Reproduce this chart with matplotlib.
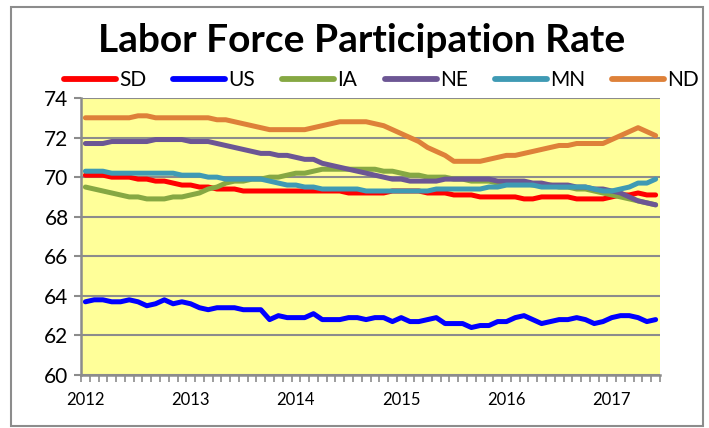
import matplotlib.pyplot as plt
import numpy as np
from matplotlib.patches import Rectangle

plt.rcParams['font.family'] = ['Lato', 'DejaVu Sans']

# monthly values, Jan 2012 - Jun 2017
years = ['2012', '2013', '2014', '2015', '2016', '2017']

SD = [70.1, 70.1, 70.1, 70.0, 70.0, 70.0, 69.9, 69.9, 69.8, 69.8, 69.7, 69.6,
      69.6, 69.5, 69.5, 69.4, 69.4, 69.4, 69.3, 69.3, 69.3, 69.3, 69.3, 69.3,
      69.3, 69.3, 69.3, 69.3, 69.3, 69.3, 69.2, 69.2, 69.2, 69.2, 69.2, 69.3,
      69.3, 69.3, 69.3, 69.2, 69.2, 69.2, 69.1, 69.1, 69.1, 69.0, 69.0, 69.0,
      69.0, 69.0, 68.9, 68.9, 69.0, 69.0, 69.0, 69.0, 68.9, 68.9, 68.9, 68.9,
      69.0, 69.1, 69.1, 69.2, 69.1, 69.1]
US = [63.7, 63.8, 63.8, 63.7, 63.7, 63.8, 63.7, 63.5, 63.6, 63.8, 63.6, 63.7,
      63.6, 63.4, 63.3, 63.4, 63.4, 63.4, 63.3, 63.3, 63.3, 62.8, 63.0, 62.9,
      62.9, 62.9, 63.1, 62.8, 62.8, 62.8, 62.9, 62.9, 62.8, 62.9, 62.9, 62.7,
      62.9, 62.7, 62.7, 62.8, 62.9, 62.6, 62.6, 62.6, 62.4, 62.5, 62.5, 62.7,
      62.7, 62.9, 63.0, 62.8, 62.6, 62.7, 62.8, 62.8, 62.9, 62.8, 62.6, 62.7,
      62.9, 63.0, 63.0, 62.9, 62.7, 62.8]
IA = [69.5, 69.4, 69.3, 69.2, 69.1, 69.0, 69.0, 68.9, 68.9, 68.9, 69.0, 69.0,
      69.1, 69.2, 69.4, 69.5, 69.7, 69.8, 69.8, 69.9, 69.9, 70.0, 70.0, 70.1,
      70.2, 70.2, 70.3, 70.4, 70.4, 70.4, 70.4, 70.4, 70.4, 70.4, 70.3, 70.3,
      70.2, 70.1, 70.1, 70.0, 70.0, 70.0, 69.9, 69.9, 69.8, 69.8, 69.8, 69.7,
      69.7, 69.7, 69.7, 69.6, 69.6, 69.6, 69.5, 69.5, 69.4, 69.4, 69.3, 69.2,
      69.1, 69.0, 68.9, 68.8, 68.7, 68.6]
NE = [71.7, 71.7, 71.7, 71.8, 71.8, 71.8, 71.8, 71.8, 71.9, 71.9, 71.9, 71.9,
      71.8, 71.8, 71.8, 71.7, 71.6, 71.5, 71.4, 71.3, 71.2, 71.2, 71.1, 71.1,
      71.0, 70.9, 70.9, 70.7, 70.6, 70.5, 70.4, 70.3, 70.2, 70.1, 70.0, 69.9,
      69.9, 69.8, 69.8, 69.8, 69.8, 69.9, 69.9, 69.9, 69.9, 69.9, 69.9, 69.8,
      69.8, 69.8, 69.8, 69.7, 69.7, 69.6, 69.6, 69.6, 69.5, 69.5, 69.4, 69.4,
      69.3, 69.2, 69.0, 68.8, 68.7, 68.6]
MN = [70.3, 70.3, 70.3, 70.2, 70.2, 70.2, 70.2, 70.2, 70.2, 70.2, 70.2, 70.1,
      70.1, 70.1, 70.0, 70.0, 69.9, 69.9, 69.9, 69.9, 69.9, 69.8, 69.7, 69.6,
      69.6, 69.5, 69.5, 69.4, 69.4, 69.4, 69.4, 69.4, 69.3, 69.3, 69.3, 69.3,
      69.3, 69.3, 69.3, 69.3, 69.4, 69.4, 69.4, 69.4, 69.4, 69.4, 69.5, 69.5,
      69.6, 69.6, 69.6, 69.6, 69.5, 69.5, 69.5, 69.5, 69.5, 69.5, 69.4, 69.3,
      69.3, 69.4, 69.5, 69.7, 69.7, 69.9]
ND = [73.0, 73.0, 73.0, 73.0, 73.0, 73.0, 73.1, 73.1, 73.0, 73.0, 73.0, 73.0,
      73.0, 73.0, 73.0, 72.9, 72.9, 72.8, 72.7, 72.6, 72.5, 72.4, 72.4, 72.4,
      72.4, 72.4, 72.5, 72.6, 72.7, 72.8, 72.8, 72.8, 72.8, 72.7, 72.6, 72.4,
      72.2, 72.0, 71.8, 71.5, 71.3, 71.1, 70.8, 70.8, 70.8, 70.8, 70.9, 71.0,
      71.1, 71.1, 71.2, 71.3, 71.4, 71.5, 71.6, 71.6, 71.7, 71.7, 71.7, 71.7,
      71.9, 72.1, 72.3, 72.5, 72.3, 72.1]

series = [('SD', SD, '#FF0000'), ('US', US, '#0000FF'), ('IA', IA, '#86A843'),
          ('NE', NE, '#6C5694'), ('MN', MN, '#3F9AB4'), ('ND', ND, '#DE8139')]

fig = plt.figure(figsize=(7.09, 4.28), dpi=100)
ax = fig.add_axes([81/709, 1-375/428, (660-81)/709, (375-98)/428])
ax.set_facecolor('#FFFF99')

x = np.arange(len(SD))
for name, vals, col in series:
    ax.plot(x, vals, color=col, lw=3.6, label=name, solid_capstyle='round')

ax.set_ylim(60, 74)
ax.set_yticks(np.arange(60, 75, 2))
ax.set_xlim(-0.5, len(SD) - 0.5)
ax.set_xticks(np.arange(0, len(SD), 12))
ax.set_xticklabels(years)
ax.set_xticks(np.arange(-0.5, len(SD), 1), minor=True)
ax.grid(axis='y', color='#8c8c8c', lw=1.5)
ax.set_axisbelow(True)
for s in ['top', 'right']:
    ax.spines[s].set_visible(False)
for s in ['left', 'bottom']:
    ax.spines[s].set_color('#8c8c8c')
    ax.spines[s].set_linewidth(1.8)
ax.tick_params(axis='y', labelsize=15, color='#8c8c8c', length=5, width=1.5, pad=4)
ax.tick_params(axis='x', which='major', labelsize=12, length=0, pad=12)
ax.tick_params(axis='x', which='minor', color='#8c8c8c', length=5, width=1.2)

fig.text(0.51, 1-40/428, 'Labor Force Participation Rate', ha='center', va='center',
         fontsize=28, fontweight='bold')
leg = fig.legend(loc='center', bbox_to_anchor=(0.538, 1-80/428), ncol=6, frameon=False,
                 fontsize=15, handlelength=2.5, handletextpad=0.15, columnspacing=1.3)
for h in leg.get_lines():
    h.set_linewidth(4.2)

fig.patches.append(Rectangle((11/709, 2/428), 692/709, 419/428, transform=fig.transFigure,
                             fill=False, edgecolor='#8c8c8c', lw=1.5))

fig.savefig('out.png', dpi=100)
